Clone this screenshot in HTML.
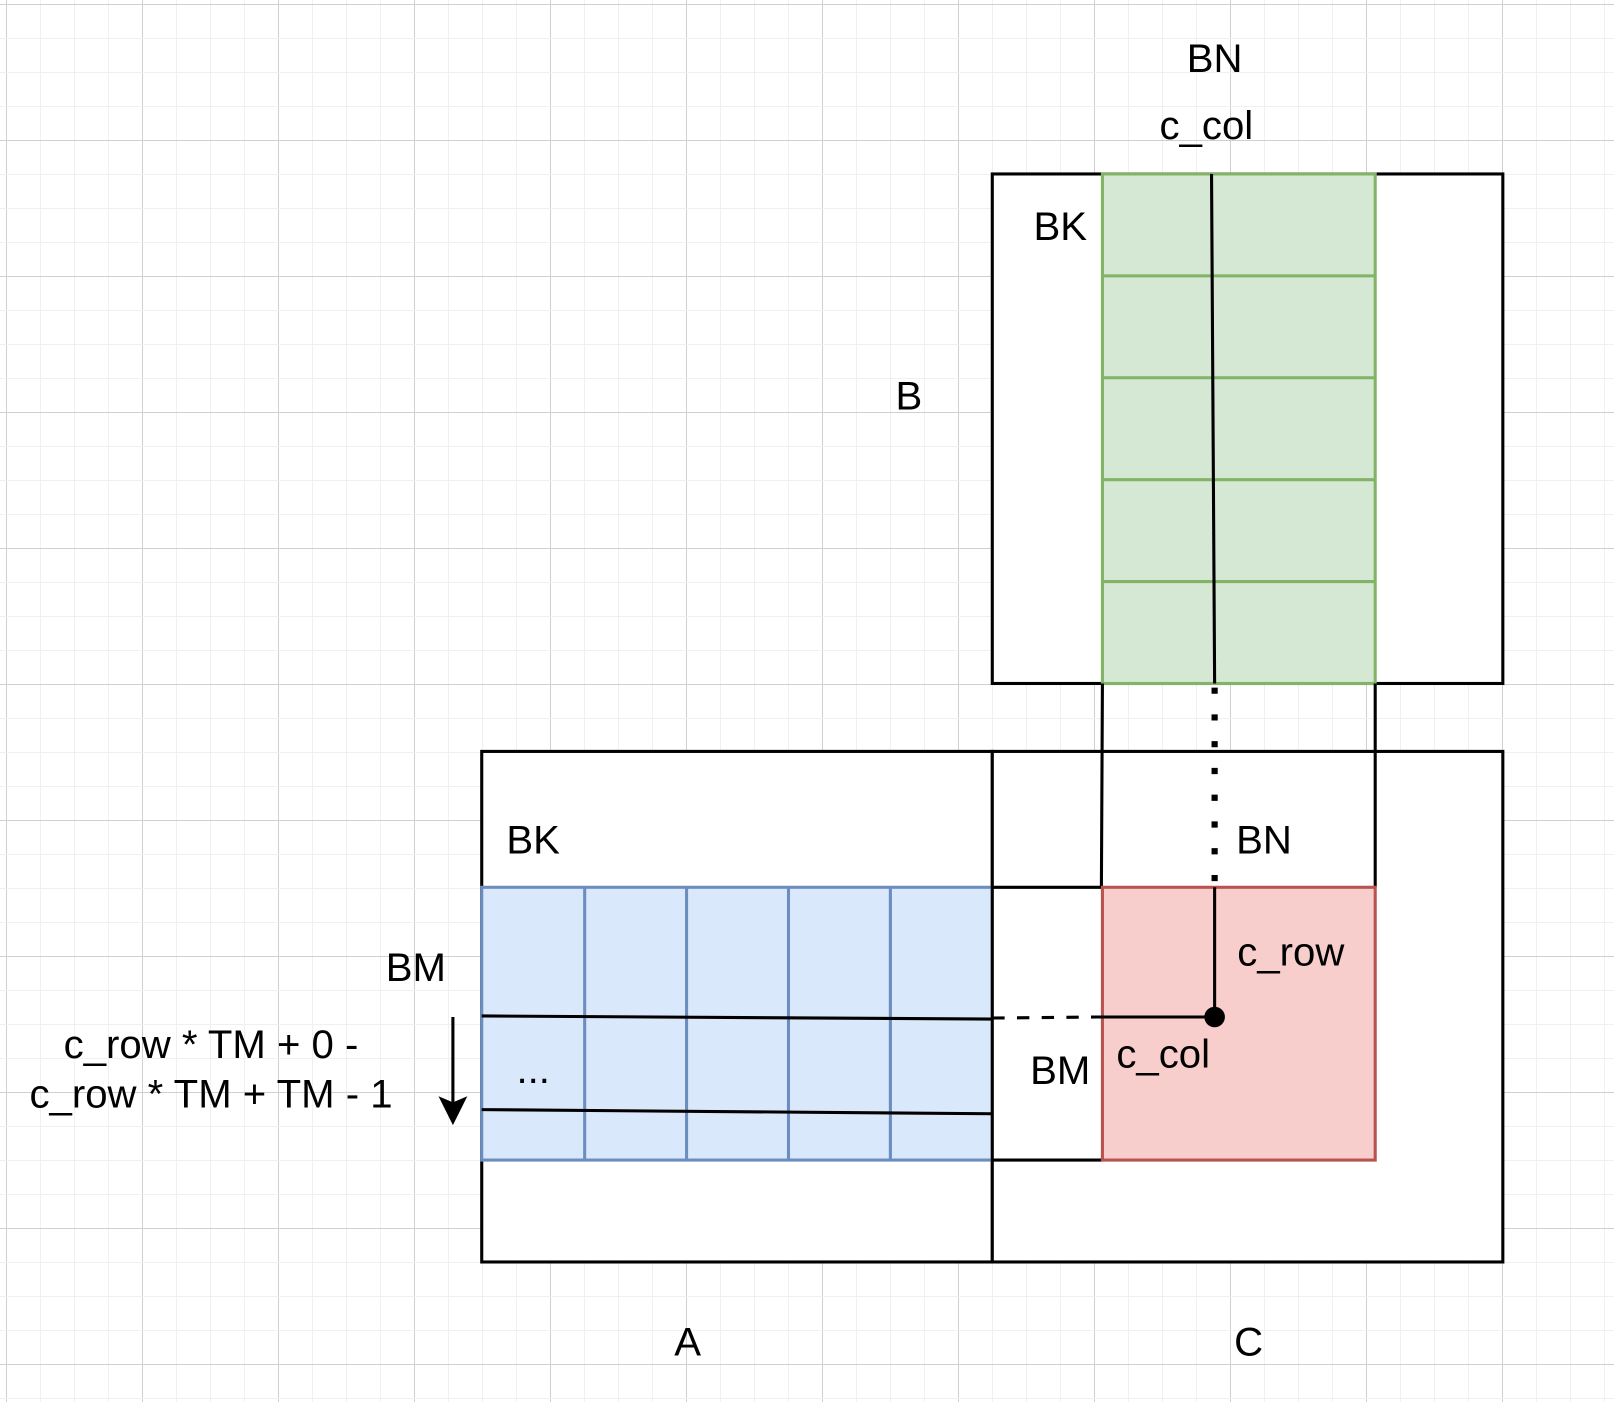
<!DOCTYPE html>
<html><head><meta charset="utf-8"><style>
html,body{margin:0;padding:0;background:#fff;}
svg{display:block;}
text{font-family:"Liberation Sans",Arial,sans-serif;fill:#000;}
</style></head><body>
<svg width="1614" height="1402" viewBox="0 0 1614 1402">
<g id="grid"></g>
<g transform="scale(1.02934)">
  <rect x="964" y="169" width="496" height="495" fill="#fff" stroke="#000" stroke-width="3"/>
  <rect x="1071" y="169" width="265" height="495" fill="#d5e8d4" stroke="#82b366" stroke-width="3"/>
  <g stroke="#82b366" stroke-width="3">
    <line x1="1071" y1="268" x2="1336" y2="268"/>
    <line x1="1071" y1="367" x2="1336" y2="367"/>
    <line x1="1071" y1="466" x2="1336" y2="466"/>
    <line x1="1071" y1="565" x2="1336" y2="565"/>
  </g>
  <line x1="1177" y1="169" x2="1180" y2="664" stroke="#000" stroke-width="3"/>

  <rect x="468" y="730" width="496" height="496" fill="#fff" stroke="#000" stroke-width="3"/>
  <rect x="468" y="862" width="496" height="265" fill="#dae8fc" stroke="#6c8ebf" stroke-width="3"/>
  <g stroke="#6c8ebf" stroke-width="3">
    <line x1="568" y1="862" x2="568" y2="1127"/>
    <line x1="667" y1="862" x2="667" y2="1127"/>
    <line x1="766" y1="862" x2="766" y2="1127"/>
    <line x1="865" y1="862" x2="865" y2="1127"/>
  </g>
  <line x1="468" y1="987" x2="964" y2="990" stroke="#000" stroke-width="3"/>
  <line x1="468" y1="1078" x2="964" y2="1082" stroke="#000" stroke-width="3"/>

  <rect x="964" y="730" width="496" height="496" fill="#fff" stroke="#000" stroke-width="3"/>
  <line x1="1071" y1="664" x2="1070" y2="862" stroke="#000" stroke-width="3"/>
  <line x1="1336" y1="664" x2="1336" y2="862" stroke="#000" stroke-width="3"/>
  <line x1="964" y1="862" x2="1071" y2="862" stroke="#000" stroke-width="3"/>
  <line x1="964" y1="1127" x2="1071" y2="1127" stroke="#000" stroke-width="3"/>
  <rect x="1071" y="862" width="265" height="265" fill="#f8cecc" stroke="#b85450" stroke-width="3"/>

  <line x1="1180" y1="668" x2="1180" y2="862" stroke="#000" stroke-width="6" stroke-dasharray="6 20"/>
  <line x1="1180" y1="862" x2="1180" y2="988" stroke="#000" stroke-width="3"/>
  <line x1="964" y1="989" x2="1065" y2="988" stroke="#000" stroke-width="3" stroke-dasharray="12 12"/>
  <line x1="1060" y1="988" x2="1180" y2="988" stroke="#000" stroke-width="3"/>
  <circle cx="1180" cy="988" r="10" fill="#000"/>

  <line x1="440" y1="988" x2="440" y2="1075" stroke="#000" stroke-width="3"/>
  <polygon points="426,1065 440,1093 454,1065 440,1071" fill="#000"/>

  <g font-size="39">
    <text x="1180" y="70" text-anchor="middle">BN</text>
    <text x="1172" y="135" text-anchor="middle">c_col</text>
    <text x="1030" y="233" text-anchor="middle">BK</text>
    <text x="883" y="398" text-anchor="middle">B</text>
    <text x="518" y="829" text-anchor="middle">BK</text>
    <text x="1228" y="829" text-anchor="middle">BN</text>
    <text x="1254" y="938" text-anchor="middle">c_row</text>
    <text x="404" y="953" text-anchor="middle">BM</text>
    <text x="205" y="1028" text-anchor="middle">c_row * TM + 0 -</text>
    <text x="205" y="1076" text-anchor="middle">c_row * TM + TM - 1</text>
    <text x="518" y="1052" text-anchor="middle">...</text>
    <text x="1030" y="1053" text-anchor="middle">BM</text>
    <text x="1130" y="1037" text-anchor="middle">c_col</text>
    <text x="668" y="1317" text-anchor="middle">A</text>
    <text x="1213" y="1317" text-anchor="middle">C</text>
  </g>
</g>
</svg>
<script>
const g=document.getElementById('grid');
const NS='http://www.w3.org/2000/svg';
function ln(x1,y1,x2,y2,c){const l=document.createElementNS(NS,'line');l.setAttribute('x1',x1);l.setAttribute('y1',y1);l.setAttribute('x2',x2);l.setAttribute('y2',y2);l.setAttribute('stroke',c);l.setAttribute('stroke-width','1');g.appendChild(l);}
for(let i=-1;i<50;i++){const x=6+i*34;if(x<0||x>1614)continue;ln(x+0.5,0,x+0.5,1402,((i%4)+4)%4===0?'#d0d0d0':'#f0f0f0');}
for(let i=-1;i<45;i++){const y=4+i*34;if(y<0||y>1402)continue;ln(0,y+0.5,1614,y+0.5,((i%4)+4)%4===0?'#d0d0d0':'#f0f0f0');}
</script>
</body></html>
